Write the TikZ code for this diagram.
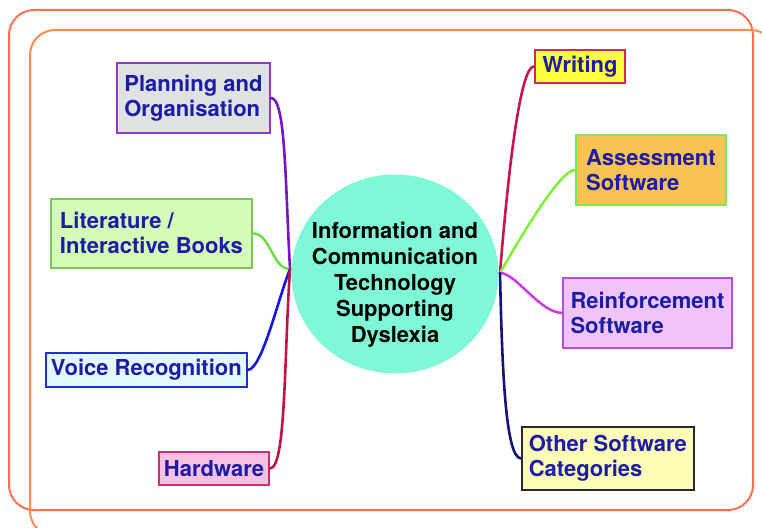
\documentclass[tikz,border=0pt]{standalone}
\usepackage{fontspec}
\setmainfont{TeX Gyre Heros}
\usepackage{tikz}
\usetikzlibrary{shapes.geometric}
\usepackage{xcolor}
\definecolor{frameOut}{RGB}{255, 112, 82}
\definecolor{frameIn}{RGB}{255, 138, 80}
\definecolor{hubFill}{RGB}{126, 248, 215}
\definecolor{topicText}{RGB}{28, 28, 165}
\definecolor{planFill}{RGB}{222, 226, 226}
\definecolor{planEdge}{RGB}{140, 60, 200}
\definecolor{litFill}{RGB}{212, 252, 182}
\definecolor{litEdge}{RGB}{120, 200, 90}
\definecolor{voiceFill}{RGB}{226, 250, 252}
\definecolor{voiceEdge}{RGB}{30, 50, 200}
\definecolor{hardFill}{RGB}{250, 192, 225}
\definecolor{hardEdge}{RGB}{200, 50, 110}
\definecolor{writFill}{RGB}{255, 255, 60}
\definecolor{writEdge}{RGB}{210, 40, 80}
\definecolor{assessFill}{RGB}{248, 195, 82}
\definecolor{assessEdge}{RGB}{125, 232, 80}
\definecolor{reinfFill}{RGB}{240, 196, 250}
\definecolor{reinfEdge}{RGB}{180, 80, 222}
\definecolor{otherFill}{RGB}{252, 252, 182}
\definecolor{otherEdge}{RGB}{40, 40, 52}
% branch colours
\definecolor{planLine}{RGB}{120, 20, 200}
\definecolor{litLine}{RGB}{110, 222, 70}
\definecolor{voiceLine}{RGB}{20, 20, 230}
\definecolor{hardLine}{RGB}{190, 20, 70}
\definecolor{writLine}{RGB}{200, 20, 80}
\definecolor{assessLine}{RGB}{130, 240, 60}
\definecolor{reinfLine}{RGB}{210, 60, 230}
\definecolor{otherLine}{RGB}{20, 20, 120}

\begin{document}
\begin{tikzpicture}[x=1pt, y=-1pt,
    topic/.style={draw, line width=1.8pt, anchor=north west, align=left,
      inner xsep=5pt, inner ysep=0pt, text=topicText,
      font=\fontsize{22}{25}\selectfont\bfseries},
    branch/.style={line width=2.6pt, line cap=round}]
  \useasboundingbox (0,0) rectangle (762,527);
  \clip (0,0) rectangle (762,527);

  % Frames
  \draw[frameOut, line width=2pt, rounded corners=25pt] (9,10) rectangle (753,510);
  \draw[frameIn, line width=2pt, rounded corners=25pt] (30,30) rectangle (776,536);

  % Hub
  \node[ellipse, fill=hubFill, minimum width=207pt, minimum height=199pt] (hub) at (395,274) {};
  \node[align=center, font=\fontsize{22}{26}\selectfont\bfseries] (hubtxt) at (395,285)
    {Information and\\Communication\\Technology\\Supporting\\Dyslexia};
  \coordinate (hubL) at (290,269);
  \coordinate (hubR) at (500,273);

  % Left topics
  \node[topic, fill=planFill, draw=planEdge, minimum width=153pt, minimum height=70pt] (plan) at (116,62) {Planning and\\Organisation};
  \node[topic, fill=litFill, draw=litEdge, minimum width=201pt, minimum height=69pt] (lit) at (50,198) {Literature /\\Interactive Books};
  \node[topic, fill=voiceFill, draw=voiceEdge, minimum width=201pt, minimum height=34pt] (voice) at (45,352) {Voice Recognition};
  \node[topic, fill=hardFill, draw=hardEdge, minimum width=109pt, minimum height=33pt] (hard) at (158,451) {Hardware};

  % Right topics
  \node[topic, fill=writFill, draw=writEdge, minimum width=90pt, minimum height=33pt] (writ) at (534,49) {Writing};
  \node[topic, fill=assessFill, draw=assessEdge, minimum width=150pt, minimum height=70pt] (assess) at (575,134) {Assessment\\Software};
  \node[topic, fill=reinfFill, draw=reinfEdge, minimum width=169pt, minimum height=70pt] (reinf) at (562,277) {Reinforcement\\Software};
  \node[topic, fill=otherFill, draw=otherEdge, minimum width=172pt, minimum height=63pt] (other) at (521,426) {Other Software\\Categories};

  % Branches
  \draw[branch, planLine] (plan.east) .. controls +(15,0) and +(-5,-90) .. (hubL);
  \draw[branch, litLine] (lit.east) .. controls +(18,0) and +(-18,0) .. (hubL);
  \draw[branch, voiceLine] (voice.east) .. controls +(14,0) and +(-12,30) .. (hubL);
  \draw[branch, hardLine] (hard.east) .. controls +(16,0) and +(-6,90) .. (hubL);
  \draw[branch, writLine] (writ.west) .. controls +(-14,0) and +(8,-100) .. (hubR);
  \draw[branch, assessLine] (assess.west) .. controls +(-15,0) and +(20,-35) .. (hubR);
  \draw[branch, reinfLine] (reinf.west) .. controls +(-22,0) and +(16,0) .. (hubR);
  \draw[branch, otherLine] (other.west) .. controls +(-16,0) and +(2,90) .. (hubR);
\end{tikzpicture}
\end{document}
